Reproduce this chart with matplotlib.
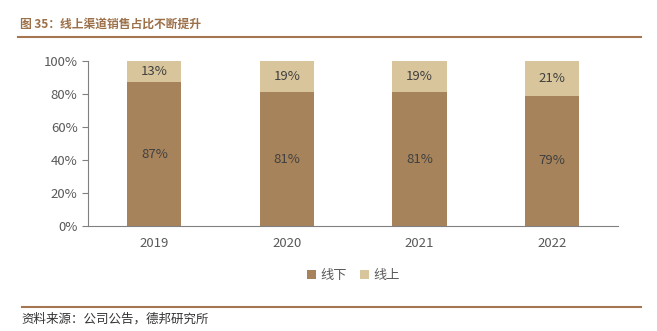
import matplotlib.pyplot as plt
from matplotlib.lines import Line2D
from matplotlib.ticker import PercentFormatter

plt.rcParams['font.family'] = ['Noto Sans CJK SC', 'DejaVu Sans']

# 数据
years = ['2019', '2020', '2021', '2022']
offline = [87, 81, 81, 79]
online = [13, 19, 19, 21]

c_off = '#A7835B'
c_on = '#D8C59B'
c_line = '#A57650'

fig = plt.figure(figsize=(6.57, 3.31), dpi=100)
ax = fig.add_axes([0.134, 0.317, 0.807, 0.499])

x = range(len(years))
ax.bar(x, offline, width=0.41, color=c_off, label='线下')
ax.bar(x, online, width=0.41, bottom=offline, color=c_on, label='线上')

for i in x:
    ax.text(i, offline[i] / 2, f'{offline[i]}%', ha='center', va='center', fontsize=9.5, color='#404040')
    ax.text(i, offline[i] + online[i] / 2, f'{online[i]}%', ha='center', va='center', fontsize=9.5, color='#404040')

ax.set_xlim(-0.5, len(years) - 0.5)
ax.set_ylim(0, 100)
ax.set_yticks(range(0, 101, 20))
ax.yaxis.set_major_formatter(PercentFormatter(decimals=0))
ax.set_xticks(list(x))
ax.set_xticklabels(years)
ax.tick_params(axis='x', length=0, labelsize=9.5, colors='#595959', pad=8)
ax.tick_params(axis='y', length=4, labelsize=9.5, colors='#595959', direction='out')
ax.tick_params(axis='y', color='#808080')
for s in ['top', 'right']:
    ax.spines[s].set_visible(False)
ax.spines['left'].set_color('#808080')
ax.spines['bottom'].set_color('#808080')

ax.legend(loc='center', bbox_to_anchor=(0.5, -0.3), ncol=2, frameon=False,
          fontsize=9.5, handlelength=0.7, handleheight=0.7, handletextpad=0.3,
          columnspacing=1.0, labelcolor='#595959')

# 标题和来源
fig.text(0.03, 0.928, '图 35：线上渠道销售占比不断提升', fontsize=8.5, color='#9C7049',
         fontweight='bold', va='center')
fig.add_artist(Line2D([0.027, 0.976], [0.888, 0.888], color=c_line, lw=1.5))
fig.add_artist(Line2D([0.033, 0.976], [0.073, 0.073], color=c_line, lw=1.5))
fig.text(0.033, 0.036, '资料来源：公司公告，德邦研究所', fontsize=9, color='#333333', va='center')

fig.savefig('out.png', dpi=100)
